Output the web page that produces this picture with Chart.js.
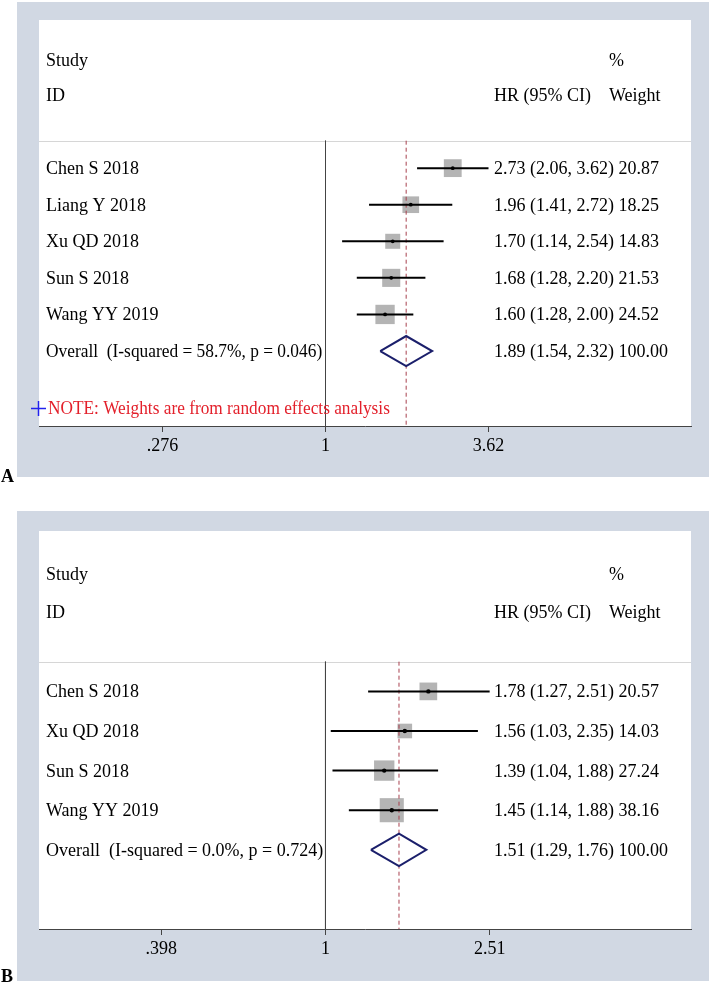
<!DOCTYPE html>
<html>
<head>
<meta charset="utf-8">
<script src="https://cdn.jsdelivr.net/npm/chart.js@4.4.0/dist/chart.umd.min.js"></script>
<style>
    html, body { margin: 0; padding: 0; background: #fff; }
    #wrap { position: relative; width: 709px; height: 984px; }
    canvas { position: absolute; left: 0; }
    #forestA { top: 0; }
    #forestB { top: 490px; }
</style>
</head>
<body>
<div id="wrap">
    <canvas id="forestA" width="709" height="490"></canvas>
    <canvas id="forestB" width="709" height="494"></canvas>
</div>
<script>
'use strict'

// ---- Panel A data ----
var studiesA = ['Chen S 2018', 'Liang Y 2018', 'Xu QD 2018', 'Sun S 2018', 'Wang YY 2019']
var hrA = [2.73, 1.96, 1.70, 1.68, 1.60]
var loA = [2.06, 1.41, 1.14, 1.28, 1.28]
var hiA = [3.62, 2.72, 2.54, 2.20, 2.00]
var weightA = [20.87, 18.25, 14.83, 21.53, 24.52]
var overallA = [1.89, 1.54, 2.32]
var overallLabelA = 'Overall  (I-squared = 58.7%, p = 0.046)'
var tickValuesA = [0.276, 1, 3.62]
var tickLabelsA = ['.276', '1', '3.62']

// ---- Panel B data ----
var studiesB = ['Chen S 2018', 'Xu QD 2018', 'Sun S 2018', 'Wang YY 2019']
var hrB = [1.78, 1.56, 1.39, 1.45]
var loB = [1.27, 1.03, 1.04, 1.14]
var hiB = [2.51, 2.35, 1.88, 1.88]
var weightB = [20.57, 14.03, 27.24, 38.16]
var overallB = [1.51, 1.29, 1.76]
var overallLabelB = 'Overall  (I-squared = 0.0%, p = 0.724)'
var tickValuesB = [0.398, 1, 2.51]
var tickLabelsB = ['.398', '1', '2.51']

var noteText = 'NOTE: Weights are from random effects analysis'

var FONT = '18px "Liberation Serif", "Times New Roman", serif'
var GRAY = '#d1d8e3'
var SEP_ROW = -0.75

function fmt(v) { return v.toFixed(2) }

// text squeezed a little horizontally, like the original export
function squeezed(ctx, text, x, y, sx) {
    ctx.save()
    ctx.translate(x, y)
    ctx.scale(sx, 1)
    ctx.fillText(text, 0, 0)
    ctx.restore()
}

var forestDecor = {
    id: 'forestDecor',
    beforeDraw: function (chart, args, o) {
        var ctx = chart.ctx
        var a = chart.chartArea
        var y = chart.scales.y
        ctx.save()
        ctx.fillStyle = '#fff'
        ctx.fillRect(0, 0, chart.width, chart.height)
        ctx.fillStyle = GRAY
        ctx.fillRect(17, o.grayTop, chart.width - 17, o.grayBottom - o.grayTop)
        ctx.fillStyle = '#fff'
        ctx.fillRect(a.left, a.top, a.right - a.left, a.bottom - a.top)
        // thin rule under the header
        var sy = Math.round(y.getPixelForValue(SEP_ROW)) + 0.5
        ctx.strokeStyle = '#d6d6d6'
        ctx.lineWidth = 1
        ctx.beginPath()
        ctx.moveTo(a.left, sy)
        ctx.lineTo(a.right, sy)
        ctx.stroke()
        ctx.restore()
    },
    afterDatasetsDraw: function (chart, args, o) {
        var ctx = chart.ctx
        var y = chart.scales.y
        var d = o.d
        function row(r) { return y.getPixelForValue(r) + 6 }
        ctx.save()
        ctx.font = FONT
        ctx.fillStyle = '#000'
        ctx.textAlign = 'left'
        ctx.textBaseline = 'alphabetic'
        ctx.fillText('Study', 46, row(-2.97))
        ctx.fillText('%', 609, row(-2.97))
        ctx.fillText('ID', 46, row(-2))
        ctx.fillText('HR (95% CI)', 494, row(-2))
        ctx.fillText('Weight', 609, row(-2))
        d.studies.forEach(function (s, i) {
            ctx.fillText(s, 46, row(i))
            ctx.fillText(fmt(d.hr[i]) + ' (' + fmt(d.lo[i]) + ', ' + fmt(d.hi[i]) + ') ' + fmt(d.weight[i]), 494, row(i))
        })
        var n = d.studies.length
        squeezed(ctx, d.overallLabel, 46, row(n), o.squeeze)
        ctx.fillText(fmt(d.overall[0]) + ' (' + fmt(d.overall[1]) + ', ' + fmt(d.overall[2]) + ') 100.00', 494, row(n))
        if (o.note) {
            var ny = y.getPixelForValue(o.noteRow)
            ctx.strokeStyle = '#2222ee'
            ctx.lineWidth = 1.5
            ctx.beginPath()
            ctx.moveTo(31, ny); ctx.lineTo(46, ny)
            ctx.moveTo(38.5, ny - 7.5); ctx.lineTo(38.5, ny + 7.5)
            ctx.stroke()
            ctx.fillStyle = '#e3202b'
            squeezed(ctx, noteText, 48, ny + 6, 0.96)
        }
        // panel letter
        ctx.fillStyle = '#000'
        ctx.font = 'bold 18px "Liberation Serif", serif'
        ctx.fillText(o.letter, 1, o.letterY)
        ctx.restore()
    }
}

function makeForest(id, d, opt) {
    var n = d.studies.length
    var ctx = document.getElementById(id).getContext('2d')
    var datasets = []

    // centre dots
    datasets.push({
        data: d.hr.map(function (v, i) { return { x: v, y: i } }),
        pointStyle: 'circle',
        pointRadius: opt.dot,
        backgroundColor: '#000',
        borderWidth: 0,
        order: 0
    })
    // confidence intervals
    d.studies.forEach(function (s, i) {
        datasets.push({
            data: [{ x: d.lo[i], y: i }, { x: d.hi[i], y: i }],
            showLine: true,
            borderColor: '#000',
            borderWidth: 2,
            pointRadius: 0,
            order: 1
        })
    })
    // pooled diamond
    var h = 0.41
    datasets.push({
        data: [
            { x: d.overall[1], y: n }, { x: d.overall[0], y: n - h },
            { x: d.overall[2], y: n }, { x: d.overall[0], y: n + h },
            { x: d.overall[1], y: n }
        ],
        showLine: true,
        borderColor: '#1b1f6b',
        borderWidth: 2,
        borderJoinStyle: 'miter',
        pointRadius: 0,
        order: 1
    })
    // dashed line at pooled estimate
    datasets.push({
        data: [{ x: d.overall[0], y: SEP_ROW }, { x: d.overall[0], y: opt.yMax }],
        showLine: true,
        borderColor: '#a8404e',
        borderWidth: 1,
        borderDash: [4, 3],
        pointRadius: 0,
        order: 2
    })
    // weight boxes
    datasets.push({
        data: d.hr.map(function (v, i) { return { x: v, y: i } }),
        pointStyle: 'rect',
        pointRadius: d.weight.map(function (w) { return 3.9 * Math.sqrt(w) / Math.SQRT2 }),
        backgroundColor: '#b4b4b4',
        borderWidth: 0,
        order: 3
    })
    // line of no effect
    datasets.push({
        data: [{ x: 1, y: SEP_ROW }, { x: 1, y: opt.yMax }],
        showLine: true,
        borderColor: '#444',
        borderWidth: 1,
        pointRadius: 0,
        order: 4
    })

    return new Chart(ctx, {
        type: 'scatter',
        data: { datasets: datasets },
        plugins: [forestDecor],
        options: {
            responsive: false,
            animation: false,
            events: [],
            layout: { padding: { left: 39, right: 18, top: opt.top, bottom: opt.bottom } },
            scales: {
                x: {
                    type: 'logarithmic',
                    min: opt.xMin,
                    max: opt.xMax,
                    afterBuildTicks: function (scale) {
                        scale.ticks = d.tickValues.map(function (v) { return { value: v } })
                    },
                    afterFit: function (scale) { scale.height = 40 },
                    border: { display: true, color: '#444', width: 1 },
                    grid: { display: true, drawOnChartArea: false, drawTicks: true, tickLength: 6, color: '#444' },
                    ticks: {
                        autoSkip: false,
                        maxRotation: 0,
                        padding: 3,
                        color: '#000',
                        font: { family: '"Liberation Serif", serif', size: 18 },
                        callback: function (v) {
                            var k = d.tickValues.indexOf(v)
                            return k >= 0 ? d.tickLabels[k] : ''
                        }
                    }
                },
                y: {
                    type: 'linear',
                    display: false,
                    reverse: true,
                    min: -4.05,
                    max: opt.yMax
                }
            },
            plugins: {
                legend: { display: false },
                tooltip: { enabled: false },
                forestDecor: {
                    d: d,
                    grayTop: opt.grayTop,
                    grayBottom: opt.grayBottom,
                    note: opt.note,
                    noteRow: opt.noteRow,
                    squeeze: opt.squeeze,
                    letter: opt.letter,
                    letterY: opt.letterY
                }
            }
        }
    })
}

makeForest('forestA', {
    studies: studiesA, hr: hrA, lo: loA, hi: hiA, weight: weightA,
    overall: overallA, overallLabel: overallLabelA,
    tickValues: tickValuesA, tickLabels: tickLabelsA
}, {
    top: 20, bottom: 24, yMax: 7.05, xMin: 0.1042, xMax: 17.9, dot: 1.9, squeeze: 0.965,
    grayTop: 2, grayBottom: 477, note: true, noteRow: 6.57, letter: 'A', letterY: 482
})

makeForest('forestB', {
    studies: studiesB, hr: hrB, lo: loB, hi: hiB, weight: weightB,
    overall: overallB, overallLabel: overallLabelB,
    tickValues: tickValuesB, tickLabels: tickLabelsB
}, {
    top: 41, bottom: 15, yMax: 6.0, xMin: 0.2007, xMax: 7.76, dot: 2.2, squeeze: 1,
    grayTop: 21, grayBottom: 491, note: false, letter: 'B', letterY: 492
})
</script>
</body>
</html>
